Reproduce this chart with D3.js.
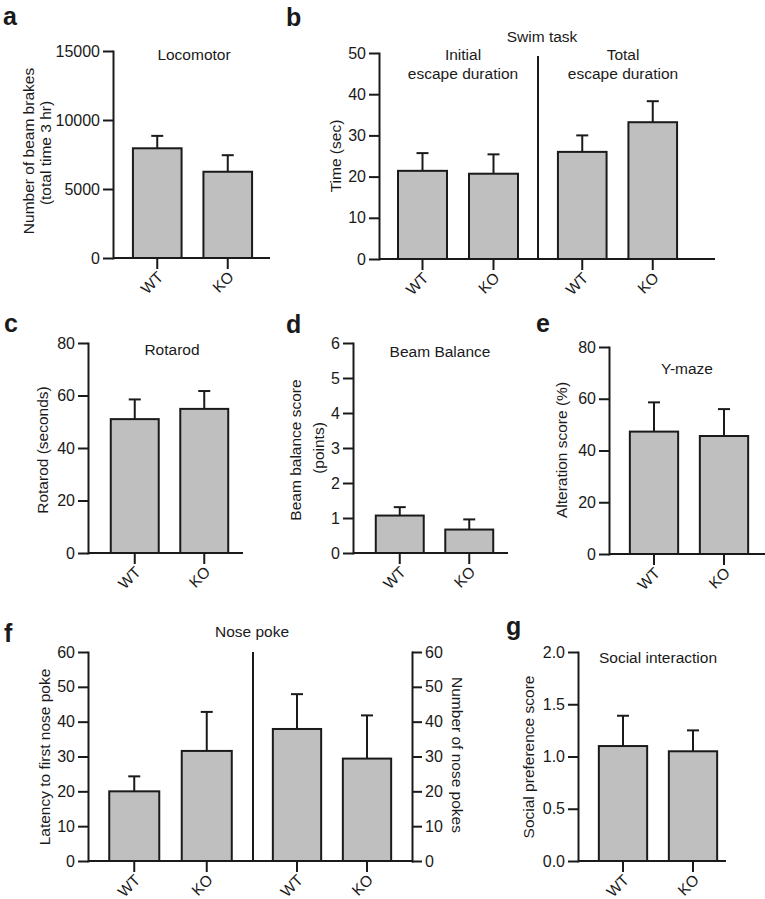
<!DOCTYPE html>
<html><head><meta charset="utf-8">
<script src="https://cdn.jsdelivr.net/npm/d3@7"></script>
<style>
html,body{margin:0;padding:0;background:#fff;}
svg text{font-family:"Liberation Sans",Arial,sans-serif;fill:#1a1a1a;}
</style></head>
<body>
<svg id="chart" width="765" height="899"></svg>
<script>
// ---------- data ----------
const groups = ["WT", "KO"];
const locomotorMean = [7950, 6250];
const locomotorSem = [900, 1200];
const swimInitialMean = [21.4, 20.7];
const swimInitialSem = [4.3, 4.7];
const swimTotalMean = [26.0, 33.2];
const swimTotalSem = [4.0, 5.1];
const rotarodMean = [51.0, 54.9];
const rotarodSem = [7.5, 6.8];
const beamMean = [1.07, 0.67];
const beamSem = [0.24, 0.29];
const ymazeMean = [47.3, 45.6];
const ymazeSem = [11.3, 10.4];
const latencyMean = [20.0, 31.6];
const latencySem = [4.3, 11.2];
const pokesMean = [37.9, 29.4];
const pokesSem = [10.0, 12.4];
const socialMean = [1.10, 1.05];
const socialSem = [0.29, 0.20];

const ticksA = [0, 5000, 10000, 15000];
const ticksB = [0, 10, 20, 30, 40, 50];
const ticksC = [0, 20, 40, 60, 80];
const ticksD = [0, 1, 2, 3, 4, 5, 6];
const ticksE = [0, 20, 40, 60, 80];
const ticksF = [0, 10, 20, 30, 40, 50, 60];
const ticksG = [0, 0.5, 1.0, 1.5, 2.0];

// ---------- drawing ----------
const svg = d3.select("#chart");
const INK = "#1a1a1a", FILL = "#bfbfbf";

function yAxis(g, y, ticks, x, fmt, right) {
  const ax = (right ? d3.axisRight(y) : d3.axisLeft(y))
    .tickValues(ticks).tickSize(10).tickSizeOuter(0).tickPadding(3)
    .tickFormat(fmt || d3.format("d"));
  const a = g.append("g").attr("transform", `translate(${x},0)`).call(ax);
  a.selectAll("path,line").attr("stroke", INK).attr("stroke-width", 2);
  a.selectAll("text").attr("font-size", 16).attr("fill", INK);
  a.select(".domain").attr("stroke-linecap", "square");
}

function bars(g, x, y, means, sems, base) {
  groups.forEach((c, i) => {
    const cx = x(c) + x.bandwidth() / 2;
    const top = y(means[i] + sems[i]);
    g.append("line").attr("x1", cx).attr("x2", cx)
      .attr("y1", y(means[i])).attr("y2", top)
      .attr("stroke", INK).attr("stroke-width", 2);
    g.append("line").attr("x1", cx - 6).attr("x2", cx + 6)
      .attr("y1", top).attr("y2", top)
      .attr("stroke", INK).attr("stroke-width", 2);
    g.append("rect").attr("x", x(c)).attr("y", y(means[i]))
      .attr("width", x.bandwidth()).attr("height", y(0) - y(means[i]))
      .attr("fill", FILL).attr("stroke", INK).attr("stroke-width", 2);
    g.append("line").attr("x1", cx).attr("x2", cx)
      .attr("y1", base).attr("y2", base + 11)
      .attr("stroke", INK).attr("stroke-width", 2);
    g.append("text").attr("text-anchor", "end").attr("font-size", 15.5)
      .attr("transform", `translate(${cx + 7},${base + 20}) rotate(-45)`)
      .text(c);
  });
}

function baseline(g, x0, x1, yv) {
  g.append("line").attr("x1", x0).attr("x2", x1).attr("y1", yv).attr("y2", yv)
    .attr("stroke", INK).attr("stroke-width", 2);
}

function txt(g, s, x, y, size, opts = {}) {
  const t = g.append("text").attr("font-size", size).attr("text-anchor", opts.anchor || "middle").text(s);
  if (opts.rot) {
    t.attr("transform", `translate(${x},${y}) rotate(${opts.rot})`).attr("dominant-baseline", "central");
  } else t.attr("x", x).attr("y", y);
  if (opts.bold) t.attr("font-weight", "bold");
  return t;
}

function letter(s, x, y) { txt(svg, s, x, y, 25, { anchor: "start", bold: true }); }

function band(r) {
  return d3.scaleBand().domain(groups).range(r).paddingInner(0.31).paddingOuter(0.155);
}

// Panel a
{
  const g = svg.append("g");
  const y = d3.scaleLinear().domain([0, 15000]).range([258, 51]);
  const x = band([122, 263]);
  baseline(g, 113, 270, y(0));
  bars(g, x, y, locomotorMean, locomotorSem, y(0));
  yAxis(g, y, ticksA, 113);
  txt(g, "Locomotor", 194, 60, 15.5);
  txt(g, "Number of beam brakes", 28, 151, 15.5, { rot: -90 });
  txt(g, "(total time 3 hr)", 45, 153, 15.5, { rot: -90 });
  letter("a", 3, 25);
}
// Panel b
{
  const g = svg.append("g");
  const y = d3.scaleLinear().domain([0, 50]).range([259, 53]);
  const xl = band([387, 529]);
  const xr = band([547, 688]);
  baseline(g, 379, 715, y(0));
  g.append("line").attr("x1", 538).attr("x2", 538).attr("y1", y(49.3)).attr("y2", y(0))
    .attr("stroke", INK).attr("stroke-width", 2);
  bars(g, xl, y, swimInitialMean, swimInitialSem, y(0));
  bars(g, xr, y, swimTotalMean, swimTotalSem, y(0));
  yAxis(g, y, ticksB, 379);
  txt(g, "Swim task", 542, 42, 15.5);
  txt(g, "Initial", 463, 60, 15.5);
  txt(g, "escape duration", 463, 79, 15.5);
  txt(g, "Total", 623, 60, 15.5);
  txt(g, "escape duration", 623, 79, 15.5);
  txt(g, "Time (sec)", 335, 156, 15.5, { rot: -90 });
  letter("b", 286, 26);
}
// Panel c
{
  const g = svg.append("g");
  const y = d3.scaleLinear().domain([0, 80]).range([553, 343]);
  const x = band([100, 239]);
  baseline(g, 88, 243, y(0));
  bars(g, x, y, rotarodMean, rotarodSem, y(0));
  yAxis(g, y, ticksC, 88);
  txt(g, "Rotarod", 172, 355, 15.5);
  txt(g, "Rotarod (seconds)", 42, 450, 15.5, { rot: -90 });
  letter("c", 4, 332);
}
// Panel d
{
  const g = svg.append("g");
  const y = d3.scaleLinear().domain([0, 6]).range([553, 343]);
  const x = band([365, 504]);
  baseline(g, 353, 508, y(0));
  bars(g, x, y, beamMean, beamSem, y(0));
  yAxis(g, y, ticksD, 353);
  txt(g, "Beam Balance", 440, 357, 15.5);
  txt(g, "Beam balance score", 295, 450, 15.5, { rot: -90 });
  txt(g, "(points)", 318, 448, 15.5, { rot: -90 });
  letter("d", 286, 333);
}
// Panel e
{
  const g = svg.append("g");
  const y = d3.scaleLinear().domain([0, 80]).range([554, 347]);
  const x = band([619, 759]);
  baseline(g, 609, 765, y(0));
  bars(g, x, y, ymazeMean, ymazeSem, y(0));
  yAxis(g, y, ticksE, 609);
  txt(g, "Y-maze", 687, 374, 15.5);
  txt(g, "Alteration score (%)", 561, 450, 15.5, { rot: -90 });
  letter("e", 536, 332);
}
// Panel f
{
  const g = svg.append("g");
  const y = d3.scaleLinear().domain([0, 60]).range([861, 652]);
  const xl = band([98, 243]);
  const xr = band([262, 402]);
  baseline(g, 88, 412, y(0));
  g.append("line").attr("x1", 253).attr("x2", 253).attr("y1", y(60)).attr("y2", y(0))
    .attr("stroke", INK).attr("stroke-width", 2);
  bars(g, xl, y, latencyMean, latencySem, y(0));
  bars(g, xr, y, pokesMean, pokesSem, y(0));
  yAxis(g, y, ticksF, 88);
  yAxis(g, y, ticksF, 412, null, true);
  txt(g, "Nose poke", 252, 637, 15.5);
  txt(g, "Latency to first nose poke", 44, 757, 15.5, { rot: -90 });
  txt(g, "Number of nose pokes", 457, 755, 15.5, { rot: 90 });
  letter("f", 4, 642);
}
// Panel g
{
  const g = svg.append("g");
  const y = d3.scaleLinear().domain([0, 2]).range([861, 652]);
  const x = band([588, 728]);
  baseline(g, 578, 726, y(0));
  bars(g, x, y, socialMean, socialSem, y(0));
  yAxis(g, y, ticksG, 578, d3.format(".1f"));
  txt(g, "Social interaction", 658, 663, 15.5);
  txt(g, "Social preference score", 528, 757, 15.5, { rot: -90 });
  letter("g", 506, 635);
}
</script>
</body></html>
